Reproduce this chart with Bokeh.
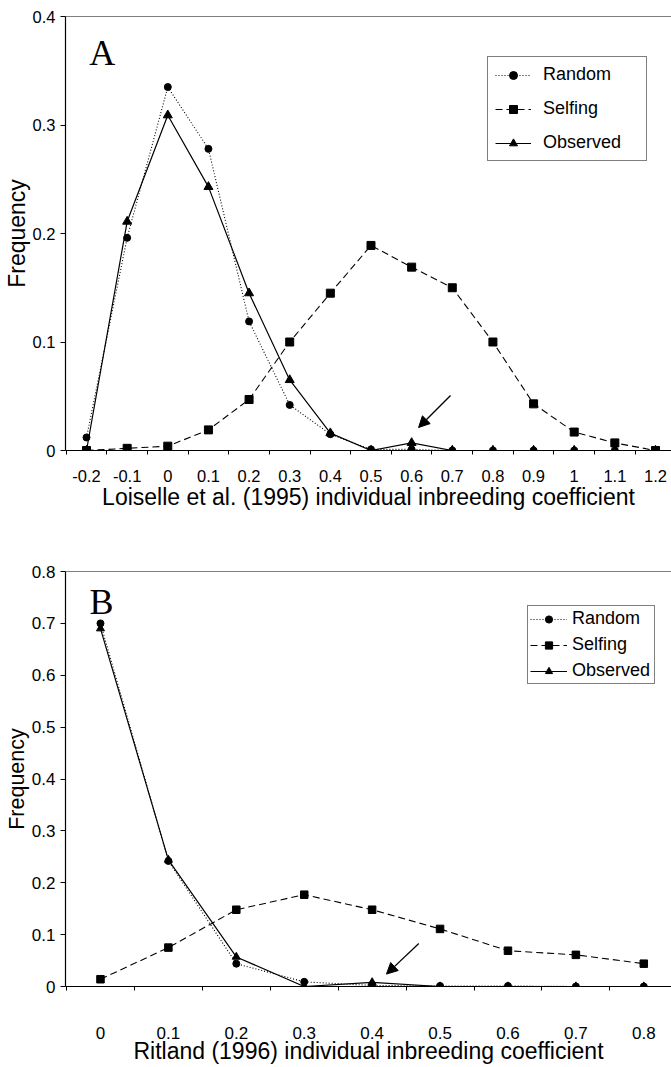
from bokeh.plotting import figure
from bokeh.layouts import column
from bokeh.models import (FixedTicker, NumeralTickFormatter, Legend, LegendItem,
                          Span, Arrow, NormalHead, Label, Range1d)
from bokeh.embed import file_html
from bokeh.resources import INLINE

# ---------------- Panel A data (Loiselle et al. 1995) ----------------
a_coef = [-0.2, -0.1, 0.0, 0.1, 0.2, 0.3, 0.4, 0.5, 0.6, 0.7, 0.8, 0.9, 1.0, 1.1, 1.2]
a_random = [0.012, 0.196, 0.335, 0.278, 0.119, 0.042, 0.015, 0.001, 0.001, 0.0,
            0.0, 0.0, 0.0, 0.0, 0.0]
a_selfing = [0.0, 0.002, 0.004, 0.019, 0.047, 0.100, 0.145, 0.189, 0.169, 0.150,
             0.100, 0.043, 0.017, 0.007, 0.0]
a_observed = [0.0, 0.211, 0.309, 0.243, 0.145, 0.065, 0.016, 0.0, 0.007, 0.0,
              0.0, 0.0, 0.0, 0.0, 0.0]
a_yticks = [0.0, 0.1, 0.2, 0.3, 0.4]

# ---------------- Panel B data (Ritland 1996) ----------------
b_coef = [0.0, 0.1, 0.2, 0.3, 0.4, 0.5, 0.6, 0.7, 0.8]
b_random = [0.700, 0.242, 0.044, 0.009, 0.002, 0.001, 0.001, 0.0, 0.0]
b_selfing = [0.014, 0.075, 0.148, 0.177, 0.148, 0.111, 0.069, 0.061, 0.044]
b_observed = [0.690, 0.244, 0.057, 0.0, 0.008, 0.0, 0.0, 0.0, 0.0]
b_yticks = [0.0, 0.1, 0.2, 0.3, 0.4, 0.5, 0.6, 0.7, 0.8]

series_names = ["Random", "Selfing", "Observed"]

FONT = "Liberation Sans"


def make_panel(coef, random, selfing, observed, yticks, *, height, border_top,
               border_bottom, x_range, letter, letter_pos, arrow, legend_loc,
               legend_style, xlabel, tick_size, title_size, ylabel_size,
               tick_standoff, title_standoff, msize):
    p = figure(width=671, height=height, output_backend="svg", toolbar_location=None,
               x_range=Range1d(*x_range), y_range=Range1d(yticks[0], yticks[-1]),
               min_border_left=65, min_border_right=0, min_border_top=border_top,
               min_border_bottom=border_bottom)
    p.outline_line_color = None
    p.background_fill_color = "white"
    p.border_fill_color = "white"
    p.xgrid.visible = False
    p.ygrid.visible = False

    step = coef[1] - coef[0]
    bounds = [c - step / 2 for c in coef] + [coef[-1] + step / 2]

    xa = p.xaxis[0]
    xa.ticker = FixedTicker(ticks=coef, minor_ticks=bounds)
    xa.formatter = NumeralTickFormatter(format="0.[0]")
    xa.major_tick_out = 0
    xa.major_tick_in = 0
    xa.minor_tick_out = 4
    xa.minor_tick_in = 0
    xa.minor_tick_line_color = "black"
    xa.axis_line_color = "black"
    xa.axis_line_width = 1.2
    xa.major_label_text_font = FONT
    xa.major_label_text_font_size = tick_size
    xa.major_label_text_color = "black"
    xa.major_label_standoff = tick_standoff
    xa.axis_label = xlabel
    xa.axis_label_text_font = FONT
    xa.axis_label_text_font_size = title_size
    xa.axis_label_text_font_style = "normal"
    xa.axis_label_text_color = "black"
    xa.axis_label_standoff = title_standoff

    ya = p.yaxis[0]
    ya.ticker = FixedTicker(ticks=yticks, minor_ticks=[])
    ya.formatter = NumeralTickFormatter(format="0.[0]")
    ya.major_tick_out = 5
    ya.major_tick_in = 0
    ya.major_tick_line_color = "black"
    ya.axis_line_color = "black"
    ya.axis_line_width = 1.2
    ya.major_label_text_font = FONT
    ya.major_label_text_font_size = tick_size
    ya.major_label_text_color = "black"
    ya.major_label_standoff = 5
    ya.axis_label = "Frequency"
    ya.axis_label_text_font = FONT
    ya.axis_label_text_font_size = ylabel_size
    ya.axis_label_text_font_style = "normal"
    ya.axis_label_text_color = "black"
    ya.axis_label_standoff = 0

    p.add_layout(Span(location=yticks[-1], dimension="width", line_color="black",
                      line_width=1.2))

    # Selfing
    ls = p.line(coef, selfing, line_color="black", line_width=1.1, line_dash="7 4")
    ms = p.scatter(coef, selfing, marker="square", size=msize[1], color="black")
    # Random
    lr = p.line(coef, random, line_color="black", line_width=1.1, line_dash="1 2")
    mr = p.scatter(coef, random, marker="circle", size=msize[0], color="black")
    # Observed
    lo = p.line(coef, observed, line_color="black", line_width=1.2)
    mo = p.scatter(coef, observed, marker="triangle", size=msize[2], color="black")

    items = [LegendItem(label=series_names[0], renderers=[lr, mr]),
             LegendItem(label=series_names[1], renderers=[ls, ms]),
             LegendItem(label=series_names[2], renderers=[lo, mo])]
    leg = Legend(items=items, location=legend_loc, orientation="vertical")
    leg.border_line_color = "black"
    leg.border_line_width = 1
    leg.background_fill_color = "white"
    leg.background_fill_alpha = 1.0
    leg.label_text_font = FONT
    leg.label_text_color = "black"
    for k, v in legend_style.items():
        setattr(leg, k, v)
    p.add_layout(leg)

    (ax0, ay0, ax1, ay1) = arrow
    p.add_layout(Arrow(x_start=ax0, y_start=ay0, x_end=ax1, y_end=ay1,
                       line_color="black", line_width=1.3,
                       end=NormalHead(size=11, fill_color="black", line_color="black")))

    p.add_layout(Label(x=letter_pos[0], y=letter_pos[1], text=letter,
                       text_font="Liberation Serif", text_font_size="36px",
                       text_color="black", text_baseline="alphabetic"))
    return p


pA = make_panel(a_coef, a_random, a_selfing, a_observed, a_yticks,
                height=530, border_top=16, border_bottom=80,
                x_range=(-0.2517, 1.2394), letter="A", letter_pos=(-0.1935, 0.366),
                arrow=(0.6957, 0.0507, 0.617, 0.0212),
                legend_loc=(422, 289),
                legend_style=dict(padding=7, spacing=13, glyph_height=20,
                                  label_height=20, glyph_width=36, label_standoff=12,
                                  label_width=96, label_text_font_size="18px",
                                  margin=0),
                xlabel="Loiselle et al. (1995) individual inbreeding coefficient",
                tick_size="16.5px", title_size="23px", ylabel_size="23px",
                tick_standoff=15, title_standoff=-1, msize=(7, 8, 9))

pB = make_panel(b_coef, b_random, b_selfing, b_observed, b_yticks,
                height=537, border_top=41, border_bottom=81,
                x_range=(-0.0515, 0.8408), letter="B", letter_pos=(-0.0162, 0.742),
                arrow=(0.4687, 0.0829, 0.4211, 0.0239),
                legend_loc=(462, 302),
                legend_style=dict(padding=2, spacing=5, glyph_height=18,
                                  label_height=18, glyph_width=37, label_standoff=5,
                                  label_width=80, label_text_font_size="18px",
                                  margin=0),
                xlabel="Ritland (1996) individual inbreeding coefficient",
                tick_size="17px", title_size="23px", ylabel_size="21.5px",
                tick_standoff=36, title_standoff=-4, msize=(7, 7.5, 8))

layout = column(pA, pB, spacing=0)

with open("out.html", "w") as f:
    f.write(file_html(layout, INLINE))
